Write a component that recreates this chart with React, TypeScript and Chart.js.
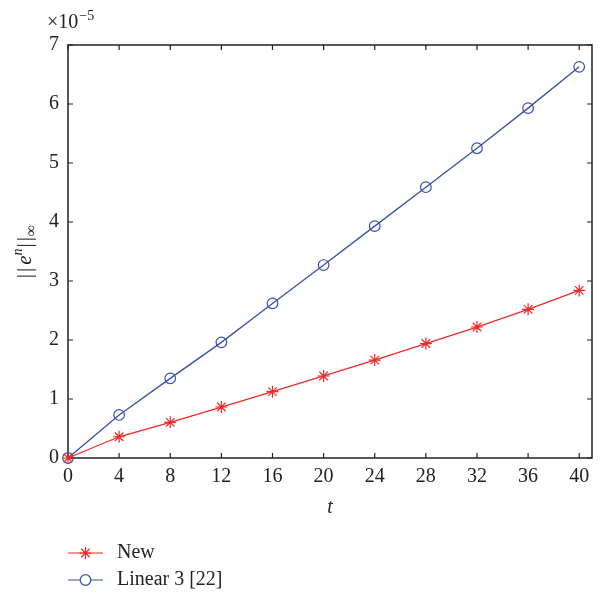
import React, { useEffect, useRef } from "react";
import { Chart, registerables } from "chart.js";

Chart.register(...registerables);

const tValues = [0, 4, 8, 12, 16, 20, 24, 28, 32, 36, 40];
const newErr = [0, 0.36, 0.605, 0.864, 1.124, 1.39, 1.66, 1.94, 2.22, 2.52, 2.84];
const linear3Err = [0, 0.73, 1.35, 1.96, 2.62, 3.27, 3.93, 4.59, 5.25, 5.93, 6.63];
const xTicks = [0, 4, 8, 12, 16, 20, 24, 28, 32, 36, 40];
const yTicks = [0, 1, 2, 3, 4, 5, 6, 7];
const seriesNames = ["New", "Linear 3 [22]"];

const RED = "rgb(240,40,40)";
const BLUE = "rgb(55,80,170)";
const FONT = "'Liberation Serif', 'DejaVu Serif', serif";

function drawMarker(ctx: any, style: string, x: number, y: number, r: number, color: string) {
  ctx.save();
  ctx.strokeStyle = color;
  ctx.lineWidth = 1.2;
  ctx.beginPath();
  if (style === "circle") {
    ctx.fillStyle = "#fff";
    ctx.arc(x, y, r, 0, Math.PI * 2);
    ctx.fill();
    ctx.stroke();
  } else {
    for (let k = 0; k < 4; k++) {
      const a = (k * Math.PI) / 4;
      ctx.moveTo(x - r * Math.cos(a), y - r * Math.sin(a));
      ctx.lineTo(x + r * Math.cos(a), y + r * Math.sin(a));
    }
    ctx.stroke();
  }
  ctx.restore();
}

const boxPlugin = {
  id: "box",
  beforeDatasetsDraw(chart: any) {
    const ctx = chart.ctx;
    const { left, right, top, bottom } = chart.chartArea;
    const xs = chart.scales.x;
    const ys = chart.scales.y;
    ctx.save();
    ctx.strokeStyle = "#222";
    ctx.lineWidth = 1.5;
    ctx.strokeRect(left, top, right - left, bottom - top);
    ctx.lineWidth = 1.2;
    ctx.beginPath();
    const tl = 5;
    xTicks.forEach((v) => {
      const px = xs.getPixelForValue(v);
      ctx.moveTo(px, bottom);
      ctx.lineTo(px, bottom - tl);
      ctx.moveTo(px, top);
      ctx.lineTo(px, top + tl);
    });
    yTicks.forEach((v) => {
      const py = ys.getPixelForValue(v);
      ctx.moveTo(left, py);
      ctx.lineTo(left + tl, py);
      ctx.moveTo(right, py);
      ctx.lineTo(right - tl, py);
    });
    ctx.stroke();
    ctx.restore();
  },
};

const decorPlugin = {
  id: "decor",
  afterDraw(chart: any) {
    const ctx = chart.ctx;
    const { left, right, top, bottom } = chart.chartArea;
    ctx.save();
    ctx.fillStyle = "#222";
    // exponent label
    ctx.textBaseline = "alphabetic";
    ctx.textAlign = "left";
    ctx.font = `20px ${FONT}`;
    ctx.fillText("\u00d710", 47, 28);
    const w10 = ctx.measureText("\u00d710").width;
    ctx.font = `14px ${FONT}`;
    ctx.fillText("\u22125", 47 + w10 + 1, 20);

    // x title
    ctx.font = `italic 20px ${FONT}`;
    ctx.textAlign = "center";
    ctx.textBaseline = "middle";
    ctx.fillText("t", (left + right) / 2, 508);

    // y title
    ctx.save();
    ctx.translate(24, (top + bottom) / 2);
    ctx.rotate(-Math.PI / 2);
    ctx.textBaseline = "alphabetic";
    ctx.textAlign = "left";
    const parts: [string, string, number, number][] = [
      ["|", `21px ${FONT}`, 0, 2],
      ["|", `21px ${FONT}`, 0, 3],
      ["e", `italic 21px ${FONT}`, 0, 0],
      ["n", `italic 14px ${FONT}`, -9, 1],
      ["|", `21px ${FONT}`, 0, 2],
      ["|", `21px ${FONT}`, 0, 1],
      ["\u221e", `16px ${FONT}`, 5, 0],
    ];
    let total = 0;
    parts.forEach(([s, f, , gap]) => {
      ctx.font = f;
      total += ctx.measureText(s).width + gap;
    });
    let x = -total / 2;
    parts.forEach(([s, f, dy, gap]) => {
      ctx.font = f;
      ctx.fillText(s, x, 7 + dy);
      x += ctx.measureText(s).width + gap;
    });
    ctx.restore();

    // legend
    const rows = [
      { y: 553, color: RED, style: "star", r: 6 },
      { y: 580, color: BLUE, style: "circle", r: 5.3 },
    ];
    rows.forEach((row, i) => {
      ctx.strokeStyle = row.color;
      ctx.lineWidth = 1.2;
      ctx.beginPath();
      ctx.moveTo(68, row.y);
      ctx.lineTo(103, row.y);
      ctx.stroke();
      drawMarker(ctx, row.style, 85.5, row.y, row.r, row.color);
      ctx.fillStyle = "#222";
      ctx.font = `20px ${FONT}`;
      ctx.textAlign = "left";
      ctx.textBaseline = "middle";
      ctx.fillText(seriesNames[i], 117, row.y);
    });
    ctx.restore();
  },
};

export default function App() {
  const ref = useRef<HTMLCanvasElement | null>(null);
  useEffect(() => {
    document.body.style.margin = "0";
    const canvas = ref.current;
    if (!canvas) return;
    const chart = new Chart(canvas, {
      type: "line",
      data: {
        datasets: [
          {
            label: seriesNames[0],
            data: tValues.map((t, i) => ({ x: t, y: newErr[i] })),
            borderColor: RED,
            backgroundColor: RED,
            borderWidth: 1.3,
            pointStyle: "star",
            pointRadius: 6,
            pointBorderWidth: 1.2,
            pointBorderColor: RED,
            fill: false,
            tension: 0,
            clip: false,
          },
          {
            label: seriesNames[1],
            data: tValues.map((t, i) => ({ x: t, y: linear3Err[i] })),
            borderColor: BLUE,
            backgroundColor: "rgba(0,0,0,0)",
            borderWidth: 1.3,
            pointStyle: "circle",
            pointRadius: 5.3,
            pointBorderWidth: 1.2,
            pointBorderColor: BLUE,
            fill: false,
            tension: 0,
            clip: false,
          },
        ],
      },
      options: {
        responsive: false,
        animation: false,
        layout: { padding: { left: 0, right: 10, top: 45, bottom: 0 } },
        plugins: {
          legend: { display: false },
          tooltip: { enabled: false },
        },
        scales: {
          x: {
            type: "linear",
            min: 0,
            max: 41,
            grid: { display: false, drawTicks: false },
            border: { display: false },
            afterFit: (s: any) => {
              s.height = 137;
            },
            afterBuildTicks: (s: any) => {
              s.ticks = xTicks.map((v) => ({ value: v }));
            },
            ticks: {
              color: "#222",
              font: { family: FONT, size: 20 },
              padding: 7,
              maxRotation: 0,
              autoSkip: false,
            },
          },
          y: {
            type: "linear",
            min: 0,
            max: 7,
            grid: { display: false, drawTicks: false },
            border: { display: false },
            afterFit: (s: any) => {
              s.width = 68;
            },
            afterBuildTicks: (s: any) => {
              s.ticks = yTicks.map((v) => ({ value: v }));
            },
            ticks: {
              color: "#222",
              font: { family: FONT, size: 20 },
              padding: 9,
              autoSkip: false,
            },
          },
        },
      },
      plugins: [boxPlugin, decorPlugin],
    } as any);
    return () => chart.destroy();
  }, []);
  return <canvas ref={ref} width={602} height={595} style={{ display: "block" }} />;
}
